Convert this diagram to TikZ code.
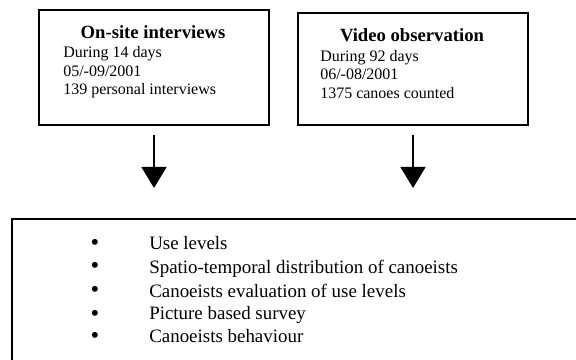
\documentclass[tikz,border=0pt]{standalone}
\usepackage{fontspec}
\setmainfont{Liberation Serif}
\usetikzlibrary{arrows.meta}

\tikzset{
    box/.style={draw,line width=1.5pt,inner sep=0pt,anchor=north west},
    boxtitle/.style={font=\fontsize{14pt}{16pt}\selectfont\bfseries,anchor=base,inner sep=0pt},
    boxtext/.style={font=\fontsize{12pt}{14pt}\selectfont,anchor=base west,inner sep=0pt},
    listtext/.style={font=\fontsize{14.2pt}{16pt}\selectfont,anchor=base west,inner sep=0pt},
    bulletmark/.style={font=\fontsize{18.5pt}{20pt}\selectfont,anchor=base,inner sep=0pt},
    flow/.style={-{Triangle[length=15.75pt,width=18.75pt]},line width=1.1pt,shorten <=6.75pt,shorten >=22.5pt}
}

\begin{document}
\begin{tikzpicture}[x=0.75pt,y=-0.75pt]
    \clip (0,0) rectangle (576,360);
    \node[box,minimum width=172.5pt,minimum height=86.25pt] (onsite) at (38,9) {};
    \node[box,minimum width=172.5pt,minimum height=84pt] (video) at (297,12) {};
    \node[box,minimum width=450pt,minimum height=150pt] (list) at (11,218) {};
    \node[boxtitle] (onsitetitle) at (153,39) {On-site interviews};
    \node[boxtitle] (videotitle) at (412,42) {Video observation};
    \foreach \y/\t [count=\i] in {58/During 14 days,76.5/{05/-09/2001},95/139 personal interviews}
    {
        \node[boxtext] (onsite\i) at (63,\y) {\t};
    }
    \foreach \y/\t [count=\i] in {61.5/During 92 days,80/{06/-08/2001},98.5/1375 canoes counted}
    {
        \node[boxtext] (video\i) at (320,\y) {\t};
    }
    \foreach \y/\t [count=\i] in {250/Use levels,273/Spatio-temporal distribution of canoeists,297/Canoeists evaluation of use levels,320/Picture based survey,343/Canoeists behaviour}
    {
        \node[bulletmark] (bullet\i) at (95,\y+1) {•};
        \node[listtext] (item\i) at (149,\y) {\t};
    }
    \draw[flow] (onsite.south)--(onsite.south |- list.north);
    \draw[flow] (video.south)--(video.south |- list.north);
\end{tikzpicture}
\end{document}
